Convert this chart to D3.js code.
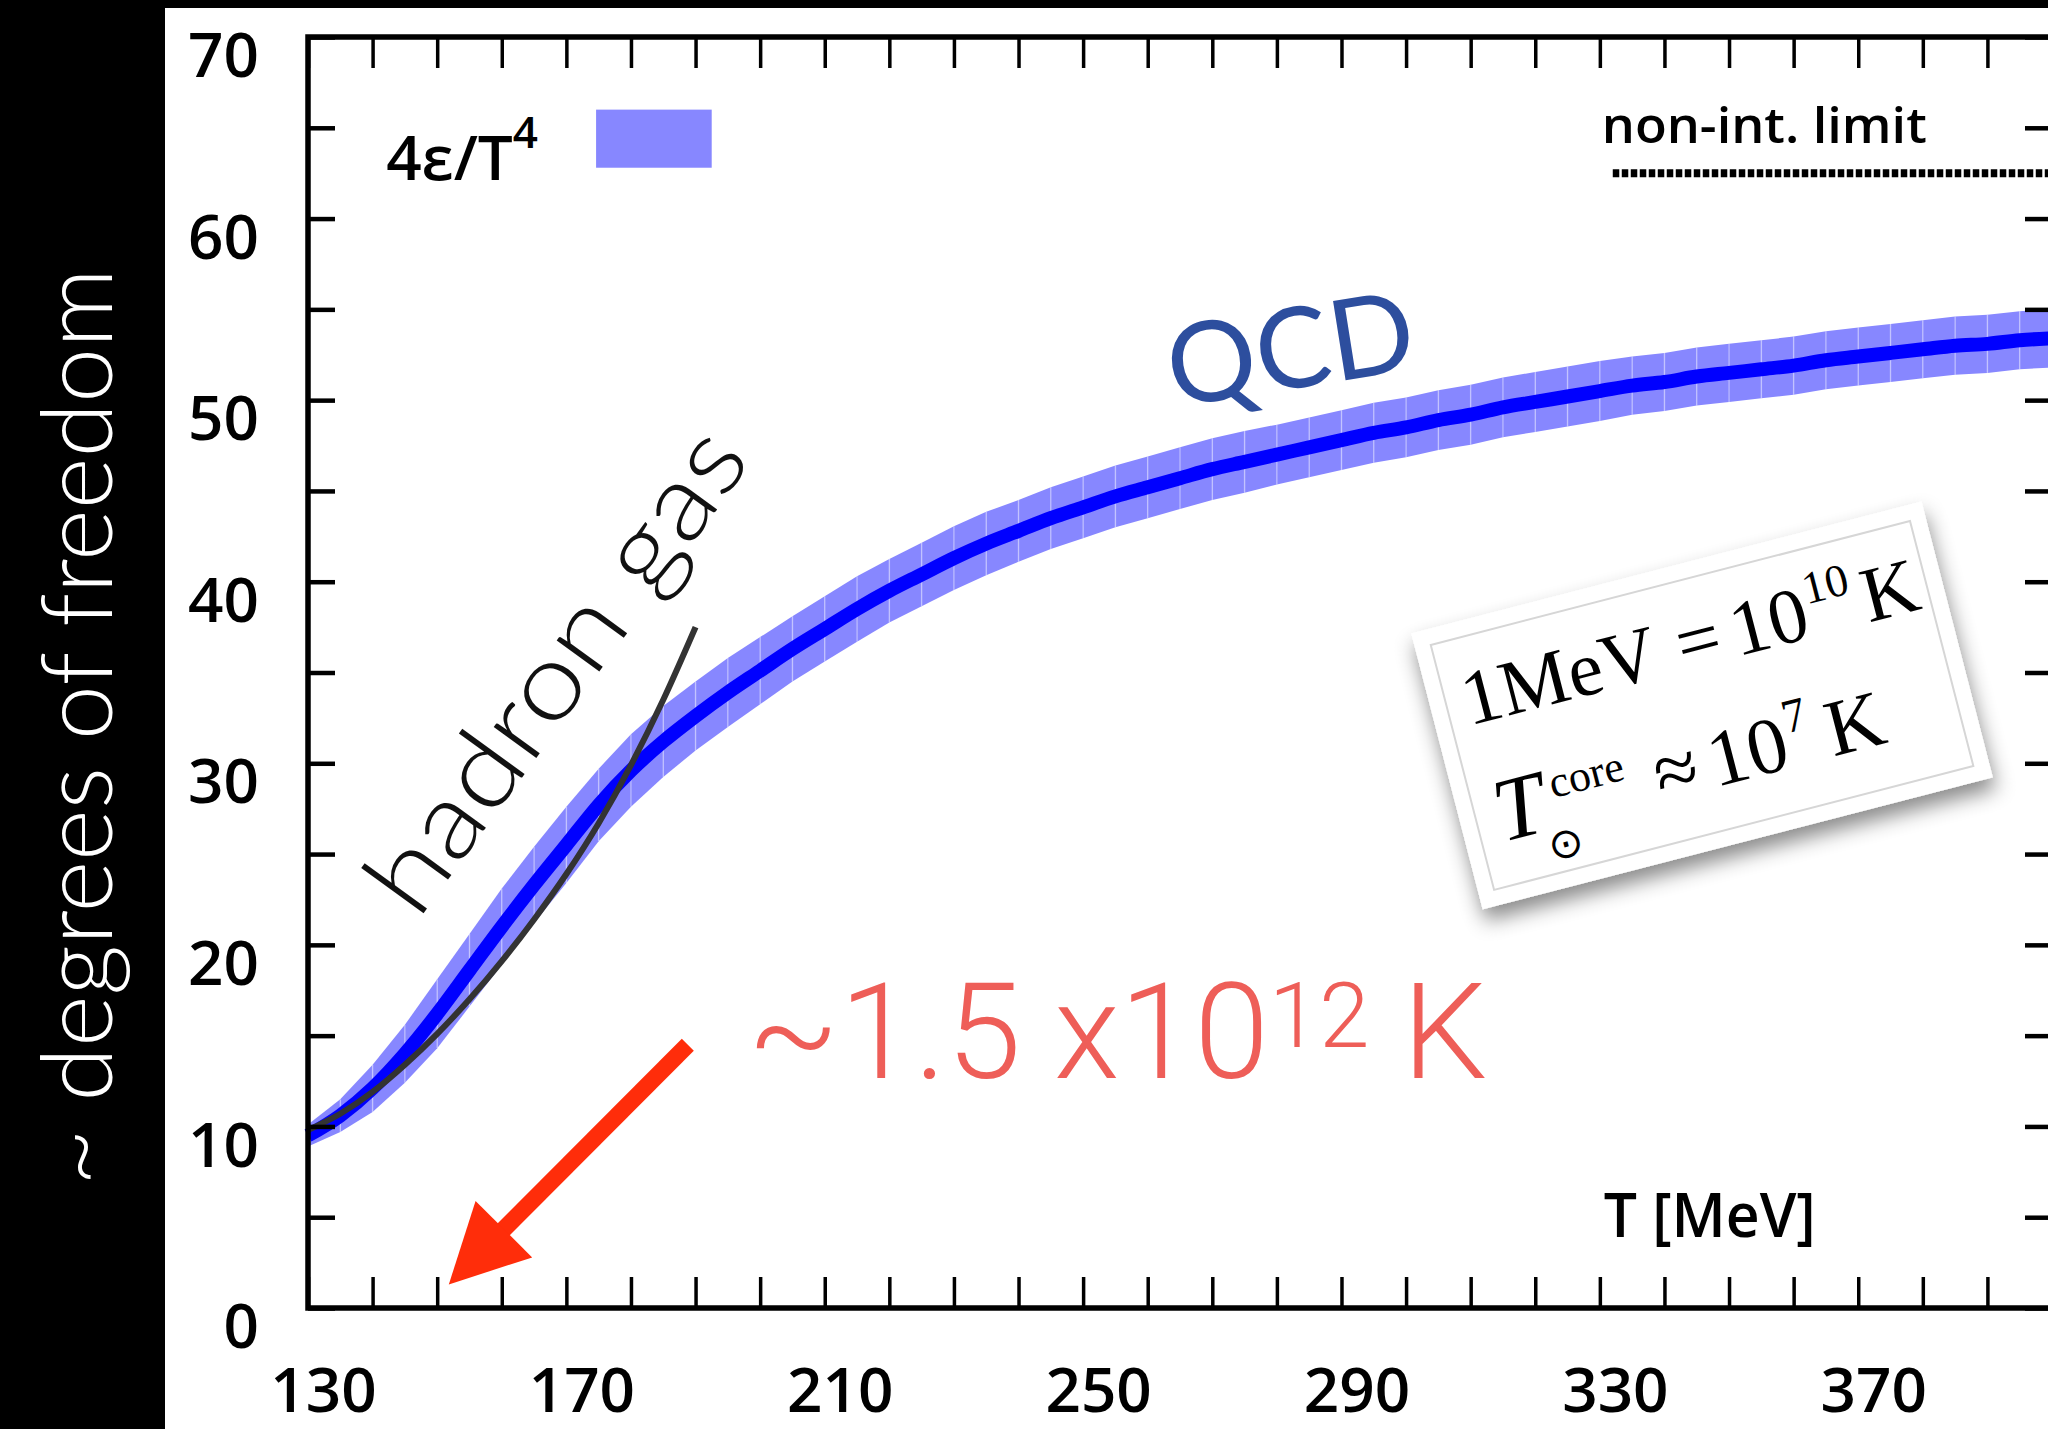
<!DOCTYPE html>
<html>
<head>
<meta charset="utf-8">
<script src="https://cdn.jsdelivr.net/npm/d3@7"></script>
<style>
  body { margin: 0; background: #000; }
  svg { display: block; }
</style>
</head>
<body>
<script>
// temperatures (MeV) where the lattice band is sampled
var temps = [130, 135, 140, 145, 150, 155, 160, 165, 170, 175, 180, 185, 190, 195, 200,
             205, 210, 215, 220, 225, 230, 235, 240, 245, 250, 255, 260, 265, 270, 275,
             280, 285, 290, 295, 300, 305, 310, 315, 320, 325, 330, 335, 340, 345, 350,
             355, 360, 365, 370, 375, 380, 385, 390, 395, 400];

// 4e/T^4 central values
var qcdMid = [9.5, 10.6, 12.1, 14.0, 16.2, 18.6, 21.0, 23.3, 25.5, 27.7, 29.6, 31.2, 32.6, 33.9, 35.1,
              36.3, 37.4, 38.5, 39.5, 40.4, 41.3, 42.1, 42.8, 43.5, 44.1, 44.7, 45.2, 45.7, 46.2, 46.6,
              47.0, 47.4, 47.8, 48.2, 48.5, 48.9, 49.2, 49.6, 49.9, 50.2, 50.5, 50.8, 51.0, 51.3, 51.5,
              51.7, 51.9, 52.2, 52.4, 52.6, 52.8, 53.0, 53.1, 53.3, 53.4];

// half width of the error band
var qcdErr = [0.6, 0.9, 1.3, 1.6, 1.9, 2.0, 2.1, 2.1, 2.1, 2.0, 2.0, 1.95, 1.9, 1.9, 1.85,
              1.8, 1.8, 1.8, 1.75, 1.75, 1.75, 1.75, 1.7, 1.7, 1.7, 1.7, 1.7, 1.7, 1.7, 1.7,
              1.65, 1.65, 1.65, 1.65, 1.65, 1.65, 1.65, 1.65, 1.65, 1.65, 1.65, 1.6, 1.6, 1.6, 1.6,
              1.6, 1.6, 1.6, 1.6, 1.6, 1.6, 1.6, 1.6, 1.6, 1.6];

// hadron resonance gas curve
var hadronT = [130, 135, 140, 145, 150, 155, 160, 165, 170, 175, 180, 185, 190];
var hadronV = [9.8, 10.7, 11.9, 13.4, 15.1, 17.0, 19.1, 21.4, 23.9, 26.7, 29.9, 33.5, 37.5];

// non-interacting (Stefan-Boltzmann) limit
var limitT = [332, 400];
var limitV = [62.5, 62.5];

// ticks and labels
var xTicks = [130, 140, 150, 160, 170, 180, 190, 200, 210, 220, 230, 240, 250, 260, 270, 280,
              290, 300, 310, 320, 330, 340, 350, 360, 370, 380, 390, 400];
var xLabels = [130, 170, 210, 250, 290, 330, 370];
var yTicks = [0, 5, 10, 15, 20, 25, 30, 35, 40, 45, 50, 55, 60, 65, 70];
var yLabels = [0, 10, 20, 30, 40, 50, 60, 70];

var W = 2048, H = 1429;
var sans = "'Open Sans', sans-serif";

var x = d3.scaleLinear().domain([130, 400]).range([308, 2052]);
var y = d3.scaleLinear().domain([0, 70]).range([1308, 37]);

var svg = d3.select("body").append("svg")
    .attr("width", W)
    .attr("height", H);

var defs = svg.append("defs");
var flt = defs.append("filter").attr("id", "cardShadow")
    .attr("x", "-20%").attr("y", "-20%").attr("width", "140%").attr("height", "150%");
flt.append("feDropShadow")
    .attr("dx", 0).attr("dy", 12).attr("stdDeviation", 10)
    .attr("flood-color", "#000").attr("flood-opacity", 0.45);

// black slide background + white plot panel
svg.append("rect").attr("width", W).attr("height", H).attr("fill", "#000");
svg.append("rect").attr("x", 165).attr("y", 8).attr("width", W - 165).attr("height", H - 8).attr("fill", "#fff");

// side title
svg.append("text")
    .attr("transform", "translate(112,727) rotate(-90)")
    .attr("text-anchor", "middle")
    .attr("font-family", "Lato, Roboto, sans-serif")
    .attr("font-weight", 300)
    .attr("font-size", 98)
    .attr("fill", "#fff")
    .attr("textLength", 918)
    .attr("lengthAdjust", "spacingAndGlyphs")
    .text("~ degrees of freedom");

// error band, drawn in 5 MeV pieces like the original
var band = temps.map(function(t, i) { return { t: t, lo: qcdMid[i] - qcdErr[i], hi: qcdMid[i] + qcdErr[i], m: qcdMid[i] }; });
var area = d3.area()
    .x(function(d) { return x(d.t); })
    .y0(function(d) { return y(d.lo); })
    .y1(function(d) { return y(d.hi); });

var bandG = svg.append("g");
for (var i = 0; i < band.length - 1; i++) {
    bandG.append("path")
        .attr("d", area([band[i], band[i + 1]]))
        .attr("fill", "#8787ff");
}
bandG.selectAll("line.seam")
    .data(band.slice(1, -1))
    .enter().append("line")
    .attr("class", "seam")
    .attr("x1", function(d) { return x(d.t); })
    .attr("x2", function(d) { return x(d.t); })
    .attr("y1", function(d) { return y(d.lo); })
    .attr("y2", function(d) { return y(d.hi); })
    .attr("stroke", "#fff")
    .attr("stroke-opacity", 0.35)
    .attr("stroke-width", 1.5);

// central QCD line
svg.append("path")
    .attr("d", d3.line().curve(d3.curveMonotoneX)
        .x(function(d) { return x(d.t); })
        .y(function(d) { return y(d.m); })(band))
    .attr("fill", "none")
    .attr("stroke", "#0000ff")
    .attr("stroke-width", 14);

// hadron gas line
svg.append("path")
    .attr("d", d3.line().curve(d3.curveMonotoneX)
        .x(function(d, i) { return x(hadronT[i]); })
        .y(function(d) { return y(d); })(hadronV))
    .attr("fill", "none")
    .attr("stroke", "#333")
    .attr("stroke-width", 6);

// non-interacting limit
svg.append("path")
    .attr("d", d3.line()
        .x(function(d, i) { return x(limitT[i]); })
        .y(function(d) { return y(d); })(limitV))
    .attr("stroke", "#000")
    .attr("stroke-width", 8)
    .attr("stroke-dasharray", "6.5,2.5");

// frame + ticks
svg.append("rect")
    .attr("x", x(130)).attr("y", y(70))
    .attr("width", x(400) - x(130)).attr("height", y(0) - y(70))
    .attr("fill", "none").attr("stroke", "#000").attr("stroke-width", 5.5);

function tickStyle(g, w) {
    g.select(".domain").remove();
    g.selectAll("line").attr("stroke", "#000").attr("stroke-width", w);
}
svg.append("g").attr("transform", "translate(0," + y(0) + ")")
    .call(d3.axisBottom(x).tickValues(xTicks).tickSize(-31).tickFormat(""))
    .call(tickStyle, 3.5);
svg.append("g").attr("transform", "translate(0," + y(70) + ")")
    .call(d3.axisTop(x).tickValues(xTicks).tickSize(-31).tickFormat(""))
    .call(tickStyle, 3.5);
svg.append("g").attr("transform", "translate(" + x(130) + ",0)")
    .call(d3.axisLeft(y).tickValues(yTicks).tickSize(-27).tickFormat(""))
    .call(tickStyle, 4.5);
svg.append("g").attr("transform", "translate(" + x(400) + ",0)")
    .call(d3.axisRight(y).tickValues(yTicks).tickSize(-27).tickFormat(""))
    .call(tickStyle, 4.5);

// tick labels (slightly off the ticks, as in the source figure)
var xl = svg.append("g").attr("transform", "translate(0," + y(0) + ")")
    .call(d3.axisBottom(x).tickValues(xLabels).tickSize(0).tickPadding(60));
xl.select(".domain").remove();
xl.attr("font-family", sans).attr("font-size", 62).attr("font-weight", 600);
xl.selectAll("text").attr("dx", 15).attr("fill", "#000");

var yl = svg.append("g").attr("transform", "translate(" + x(130) + ",0)")
    .call(d3.axisLeft(y).tickValues(yLabels).tickSize(0).tickPadding(49));
yl.select(".domain").remove();
yl.attr("font-family", sans).attr("font-size", 62).attr("font-weight", 600);
yl.selectAll("text").attr("dy", "0.64em").attr("fill", "#000");

// legend
var leg = svg.append("text")
    .attr("x", x(142.1)).attr("y", y(62.1))
    .attr("font-family", sans)
    .attr("font-weight", 600)
    .attr("font-size", 62);
leg.append("tspan").text("4\u03b5/T");
leg.append("tspan").attr("dy", -32).attr("font-size", 44).text("4");
svg.append("rect")
    .attr("x", x(174.6)).attr("y", y(66.0))
    .attr("width", x(192.5) - x(174.6)).attr("height", y(62.8) - y(66.0))
    .attr("fill", "#8787ff");

svg.append("text")
    .attr("x", x(330.3)).attr("y", y(64.15))
    .attr("font-family", sans)
    .attr("font-weight", 600)
    .attr("font-size", 48)
    .attr("textLength", 325).attr("lengthAdjust", "spacingAndGlyphs")
    .text("non-int. limit");

svg.append("text")
    .attr("x", x(330.6)).attr("y", y(3.9))
    .attr("font-family", sans)
    .attr("font-weight", 600)
    .attr("font-size", 62)
    .attr("textLength", 212).attr("lengthAdjust", "spacingAndGlyphs")
    .text("T [MeV]");

// curve labels
svg.append("text")
    .attr("transform", "translate(" + x(147.0) + "," + y(21.3) + ") rotate(-54)")
    .attr("font-family", "Lato, Roboto, sans-serif")
    .attr("font-weight", 300)
    .attr("font-size", 106)
    .attr("fill", "#111")
    .attr("textLength", 570).attr("lengthAdjust", "spacingAndGlyphs")
    .text("hadron gas");

svg.append("text")
    .attr("transform", "translate(" + x(264.0) + "," + y(49.6) + ") rotate(-9)")
    .attr("font-family", "Lato, Roboto, sans-serif")
    .attr("font-weight", 400)
    .attr("font-size", 112)
    .attr("fill", "#2d4e9e")
    .attr("textLength", 249).attr("lengthAdjust", "spacingAndGlyphs")
    .text("QCD");

// red temperature note + arrow
var red = svg.append("text")
    .attr("x", x(198.0)).attr("y", y(12.67))
    .attr("font-family", "Roboto, 'Liberation Sans', sans-serif")
    .attr("font-weight", 300)
    .attr("font-size", 134)
    .attr("fill", "#ee5e58")
    .attr("textLength", 740).attr("lengthAdjust", "spacingAndGlyphs");
red.append("tspan").text("~1.5 x10");
red.append("tspan").attr("dy", -31).attr("font-size", 90).text("12");
red.append("tspan").attr("dy", 31).text(" K");

var arrowFrom = [188.8, 14.5], arrowTo = [151.8, 1.3];
var p1 = [x(arrowFrom[0]), y(arrowFrom[1])], p2 = [x(arrowTo[0]), y(arrowTo[1])];
var len = Math.hypot(p2[0] - p1[0], p2[1] - p1[1]);
var ux = (p2[0] - p1[0]) / len, uy = (p2[1] - p1[1]) / len;
var headL = 78, headW = 40;
var base = [p2[0] - ux * headL, p2[1] - uy * headL];
svg.append("line")
    .attr("x1", p1[0]).attr("y1", p1[1])
    .attr("x2", base[0] + ux * 4).attr("y2", base[1] + uy * 4)
    .attr("stroke", "#ff2d0a").attr("stroke-width", 17);
svg.append("path")
    .attr("d", "M" + p2[0] + "," + p2[1] +
        "L" + (base[0] - uy * headW) + "," + (base[1] + ux * headW) +
        "L" + (base[0] + uy * headW) + "," + (base[1] - ux * headW) + "Z")
    .attr("fill", "#ff2d0a");

// conversion card
var card = svg.append("g")
    .attr("transform", "translate(" + x(345.5) + "," + y(33.3) + ") rotate(-14.5)");
card.append("rect")
    .attr("x", -262).attr("y", -140).attr("width", 527).attr("height", 285)
    .attr("fill", "#fff").attr("filter", "url(#cardShadow)");
card.append("rect")
    .attr("x", -246).attr("y", -124).attr("width", 495).attr("height", 253)
    .attr("fill", "none").attr("stroke", "#d6d6d6").attr("stroke-width", 2);

var serif = "'Liberation Serif', 'Times New Roman', serif";
var l1 = card.append("text").attr("y", -36).attr("font-family", serif).attr("font-size", 78).attr("fill", "#000");
l1.append("tspan").attr("x", -229).text("1MeV");
l1.append("tspan").attr("x", -8).text("=");
l1.append("tspan").attr("x", 48).text("10");
l1.append("tspan").attr("x", 128).attr("dy", -33).attr("font-size", 46).text("10");
l1.append("tspan").attr("x", 184).attr("dy", 33).text("K");

var l2 = card.append("text").attr("y", 85).attr("font-family", serif).attr("font-size", 80).attr("fill", "#000");
l2.append("tspan").attr("x", -226).attr("font-style", "italic").attr("font-size", 90).text("T");
l2.append("tspan").attr("x", -166).attr("dy", -30).attr("font-size", 44).text("core");
l2.append("tspan").attr("x", -62).attr("dy", 30).text("\u2248");
l2.append("tspan").attr("x", -6).text("10");
l2.append("tspan").attr("x", 76).attr("dy", -34).attr("font-size", 48).text("7");
l2.append("tspan").attr("x", 116).attr("dy", 34).text("K");
card.append("text")
    .attr("x", -165).attr("y", 116)
    .attr("text-anchor", "middle")
    .attr("font-family", "'DejaVu Sans', sans-serif")
    .attr("font-size", 42)
    .text("\u2299");
</script>
</body>
</html>
